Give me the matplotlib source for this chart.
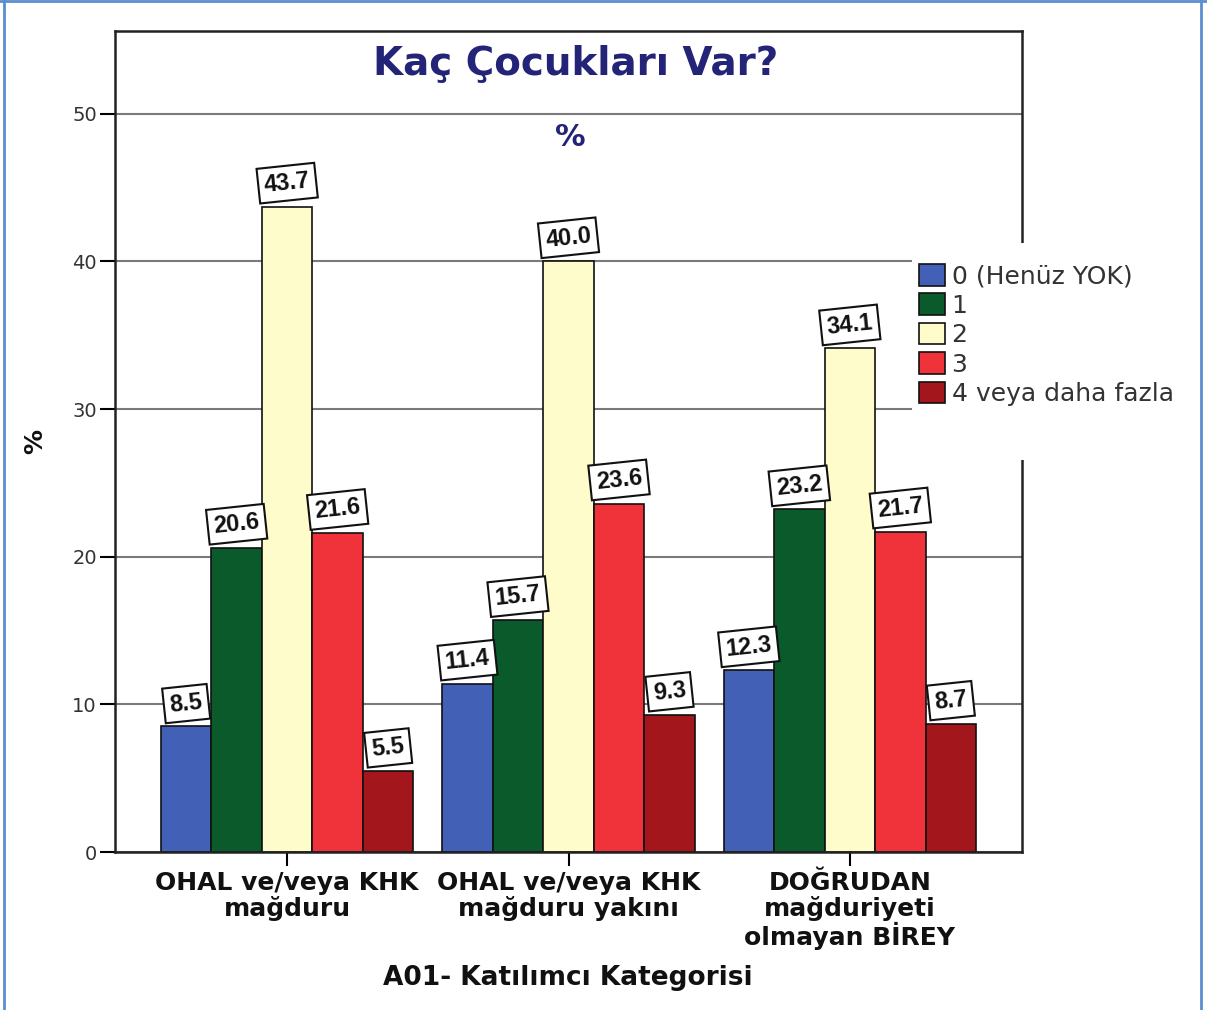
import matplotlib
matplotlib.use("Agg")
import matplotlib.pyplot as plt
import numpy as np
from matplotlib.patches import Rectangle
from matplotlib.lines import Line2D

# ---- data ----
categories = ["OHAL ve/veya KHK\nmağduru",
              "OHAL ve/veya KHK\nmağduru yakını",
              "DOĞRUDAN\nmağduriyeti\nolmayan BİREY"]
series_names = ["0 (Henüz YOK)", "1", "2", "3", "4 veya daha fazla"]
values_0 = [8.5, 11.4, 12.3]
values_1 = [20.6, 15.7, 23.2]
values_2 = [43.7, 40.0, 34.1]
values_3 = [21.6, 23.6, 21.7]
values_4 = [5.5, 9.3, 8.7]
y_ticks = [0, 10, 20, 30, 40, 50]

series_values = [values_0, values_1, values_2, values_3, values_4]
colors = ["#4260b6", "#0b5a2c", "#fffccc", "#f0323b", "#a2161c"]

fig = plt.figure(figsize=(12.07, 10.10), dpi=100)
ax = fig.add_axes([115/1207, 1-852/1010, (1022-115)/1207, (852-31)/1010])

x = np.arange(len(categories))
w = 0.1795
for i, (name, vals, col) in enumerate(zip(series_names, series_values, colors)):
    pos = x + (i - 2) * w
    ax.bar(pos, vals, width=w, color=col, edgecolor="#111111", linewidth=1.2,
           label=name, zorder=2)
    for px, v in zip(pos, vals):
        ax.annotate(f"{v:.1f}", xy=(px, v), xytext=(0, 7), textcoords="offset points",
                    ha="center", va="bottom", rotation=6, fontsize=17,
                    fontweight="bold", family=["Liberation Sans", "DejaVu Sans"],
                    color="#111111", zorder=5,
                    bbox=dict(boxstyle="square,pad=0.25", fc="white", ec="#111111", lw=1.5))

ax.set_xlim(-0.612, 2.612)
ax.set_ylim(0, 55.6)
ax.set_yticks(y_ticks)
ax.set_yticklabels([str(t) for t in y_ticks])
ax.set_xticks(x)
ax.set_xticklabels(categories, fontsize=18, fontweight="bold", linespacing=1.05)
ax.tick_params(axis="y", direction="out", length=11, width=1.5, labelsize=14,
               labelcolor="#333333", pad=2)
ax.tick_params(axis="x", direction="out", length=10, width=1.5, pad=3.5, labelcolor="#111111")
ax.yaxis.grid(True, color="#7a7a7a", linewidth=1.5, zorder=0)
ax.set_axisbelow(True)
for s in ax.spines.values():
    s.set_linewidth(1.8)
    s.set_color("#222222")

ax.text(0.508, 0.960, "Kaç Çocukları Var?", transform=ax.transAxes, ha="center", va="center",
        fontsize=28, fontweight="bold", color="#232378")
ax.text(0.5017, 0.870, "%", transform=ax.transAxes, ha="center", va="center",
        fontsize=22, fontweight="bold", color="#232378")
ax.text(-0.088, 0.50, "%", transform=ax.transAxes, ha="center", va="center",
        rotation=90, fontsize=18, fontweight="bold", color="#111111")
ax.text(0.499, -0.153, "A01- Katılımcı Kategorisi", transform=ax.transAxes, ha="center",
        va="center", fontsize=19, fontweight="bold", color="#111111")

# white area behind legend (covers right spine and grid lines)
fig.add_artist(Rectangle((912/1207, 1-460/1010), (1195-912)/1207, (460-243)/1010,
                         transform=fig.transFigure, facecolor="white", edgecolor="none",
                         zorder=3))

handles, labels = ax.get_legend_handles_labels()
leg = fig.legend(handles, labels, loc="upper left", bbox_to_anchor=(919/1207, 1-264/1010),
                 frameon=False, fontsize=18, handlelength=1.05, handleheight=0.95,
                 handletextpad=0.25, labelspacing=0.2, borderpad=0, borderaxespad=0)
leg.set_zorder(4)
for t in leg.get_texts():
    t.set_color("#333333")

# light blue frame around the figure
bc = "#5b8ed0"
fig.add_artist(Line2D([4/1207, 4/1207], [0, 1], transform=fig.transFigure, color=bc, lw=2))
fig.add_artist(Line2D([1201/1207, 1201/1207], [0, 1], transform=fig.transFigure, color=bc, lw=2))
fig.add_artist(Line2D([0, 1], [1-1/1010, 1-1/1010], transform=fig.transFigure, color=bc, lw=2))

fig.savefig("out.png", dpi=100, facecolor="white")
